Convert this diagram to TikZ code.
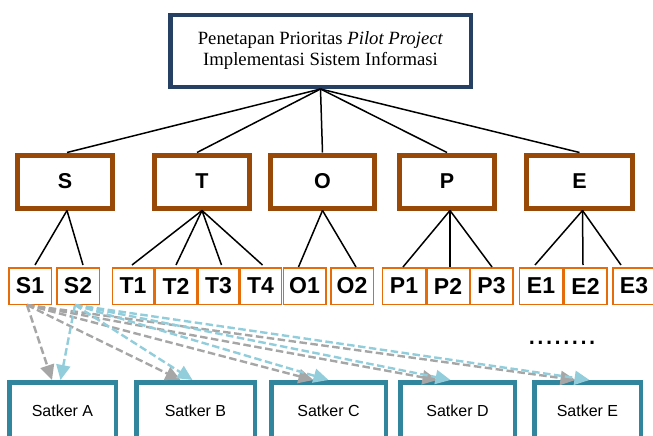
\documentclass[tikz,border=0pt]{standalone}
\usepackage{fontspec}
\setmainfont{Liberation Serif}
\setsansfont{Liberation Sans}
\usetikzlibrary{arrows.meta}
\definecolor{navy}{RGB}{38,64,100}
\definecolor{rust}{RGB}{152,72,7}
\definecolor{amber}{RGB}{228,108,10}
\definecolor{teal}{RGB}{49,133,156}
\definecolor{arrgray}{RGB}{166,166,166}
\definecolor{arrblue}{RGB}{146,205,220}
\tikzset{
  topbox/.style={draw=navy, line width=4.5pt, fill=white, inner sep=0pt,
    minimum width=300.5pt, minimum height=71.5pt, align=center,
    font=\fontsize{18.7}{21}\selectfont},
  dimbox/.style={draw=rust, line width=5pt, fill=white, inner sep=0pt,
    minimum height=53pt, font=\sffamily\bfseries\fontsize{21.5}{25}\selectfont},
  subbox/.style={draw=amber, line width=1.5pt, fill=white, inner sep=0pt,
    minimum height=36.5pt, font=\sffamily\bfseries\fontsize{23}{27}\selectfont},
  satbox/.style={draw=teal, line width=4.5pt, fill=white, inner sep=0pt,
    minimum height=57.5pt, font=\sffamily\fontsize{16}{19}\selectfont},
  tree/.style={draw=black, line width=1.5pt},
  grayarr/.style={draw=arrgray, line width=2.4pt, dash pattern=on 7.5pt off 3.5pt,
    -{Triangle[length=15pt,width=14pt]}, arrgray},
  bluearr/.style={draw=arrblue, line width=2.4pt, dash pattern=on 7.5pt off 3.5pt,
    -{Triangle[length=15pt,width=14pt]}, arrblue},
}
\begin{document}
\begin{tikzpicture}[x=1pt,y=-1pt]
\useasboundingbox (0,0) rectangle (653,436);
\clip (0,0) rectangle (653,436);

% root
\node[topbox] (top) at (320.5,51) {Penetapan Prioritas \textit{Pilot Project}\\Implementasi Sistem Informasi};

% dimensions
\node[dimbox, minimum width=95pt]  (S) at (65,181.5)    {S};
\node[dimbox, minimum width=95pt]  (T) at (202,181.5)   {T};
\node[dimbox, minimum width=104pt] (O) at (322.5,181.5) {O};
\node[dimbox, minimum width=95pt]  (P) at (447,181.5)   {P};
\node[dimbox, minimum width=106pt] (E) at (579.5,181.5) {E};

% sub-criteria
\node[subbox, minimum width=42.5pt] (S1) at (30,286)    {S1};
\node[subbox, minimum width=42.5pt] (S2) at (78,286)    {S2};
\node[subbox, minimum width=41.5pt] (T1) at (133,286)   {T1};
\node[subbox, minimum width=41.5pt] (T2) at (176,286)   {T2};
\node[subbox, minimum width=40.5pt] (T3) at (218.5,286) {T3};
\node[subbox, minimum width=41.5pt] (T4) at (260.5,286) {T4};
\node[subbox, minimum width=42.5pt] (O1) at (304.5,286) {O1};
\node[subbox, minimum width=42.5pt] (O2) at (352,286)   {O2};
\node[subbox, minimum width=43.5pt] (P1) at (404,286)   {P1};
\node[subbox, minimum width=42.5pt] (P2) at (448,286)   {P2};
\node[subbox, minimum width=42.5pt] (P3) at (491.5,286) {P3};
\node[subbox, minimum width=43pt]   (E1) at (541,286)   {E1};
\node[subbox, minimum width=43pt]   (E2) at (585.5,286) {E2};
\node[subbox, minimum width=42.5pt] (E3) at (634,286)   {E3};

% work units
\node[satbox, minimum width=106.5pt] (SA) at (62.5,411)  {Satker A};
\node[satbox, minimum width=118.5pt] (SB) at (195.5,411) {Satker B};
\node[satbox, minimum width=114.5pt] (SC) at (328.5,411) {Satker C};
\node[satbox, minimum width=114.5pt] (SD) at (457.5,411) {Satker D};
\node[satbox, minimum width=106.5pt] (SE) at (587.5,411) {Satker E};

\node[font=\sffamily\fontsize{31}{31}\selectfont, anchor=base, inner sep=0pt] (dots) at (562,344.5) {........};

% root to dimensions
\draw[tree] (top.south) -- ([xshift=2pt]S.north);
\draw[tree] (top.south) -- ([xshift=-5pt]T.north);
\draw[tree] (top.south) -- (O.north);
\draw[tree] (top.south) -- (P.north);
\draw[tree] (top.south) -- (E.north);

% dimensions to sub-criteria
\draw[tree] ([xshift=2pt]S.south) -- ([xshift=5pt,yshift=2pt]S1.north);
\draw[tree] ([xshift=2pt]S.south) -- ([xshift=5pt,yshift=2pt]S2.north);
\draw[tree] (T.south) -- ([xshift=-1pt,yshift=2pt]T1.north);
\draw[tree] (T.south) -- ([yshift=2pt]T2.north);
\draw[tree] (T.south) -- ([xshift=3pt,yshift=2pt]T3.north);
\draw[tree] (T.south) -- ([xshift=2pt,yshift=2pt]T4.north);
\draw[tree] (O.south) -- ([xshift=-6pt]O1.north);
\draw[tree] (O.south) -- ([xshift=4pt]O2.north);
\draw[tree] ([xshift=3pt]P.south) -- ([xshift=-1pt]P1.north);
\draw[tree] ([xshift=3pt]P.south) -- ([xshift=2pt]P2.north);
\draw[tree] ([xshift=3pt]P.south) -- ([xshift=0.5pt]P3.north);
\draw[tree] ([xshift=3pt]E.south) -- ([xshift=-6pt,yshift=2pt]E1.north);
\draw[tree] ([xshift=3pt]E.south) -- ([xshift=-2.5pt,yshift=2pt]E2.north);
\draw[tree] ([xshift=3pt]E.south) -- ([xshift=-13pt,yshift=2pt]E3.north);

% allocation arrows
\draw[grayarr] ([xshift=-3pt]S1.south) -- ([xshift=-10.5pt]SA.north);
\draw[grayarr] ([xshift=-3pt]S1.south) -- ([xshift=-15pt]SB.north);
\draw[grayarr] ([xshift=-3pt]S1.south) -- ([xshift=-15pt]SC.north);
\draw[grayarr] ([xshift=-3pt]S1.south) -- ([xshift=-20pt]SD.north);
\draw[grayarr] ([xshift=-3pt]S1.south) -- ([xshift=-12pt]SE.north);
\draw[bluearr] ([xshift=-3pt]S2.south) -- ([xshift=-2pt]SA.north);
\draw[bluearr] ([xshift=-3pt]S2.south) -- ([xshift=-3pt]SB.north);
\draw[bluearr] ([xshift=-3pt]S2.south) -- (SC.north);
\draw[bluearr] ([xshift=-3pt]S2.south) -- ([xshift=-7pt]SD.north);
\draw[bluearr] ([xshift=-3pt]S2.south) -- ([xshift=2pt]SE.north);
\end{tikzpicture}
\end{document}
